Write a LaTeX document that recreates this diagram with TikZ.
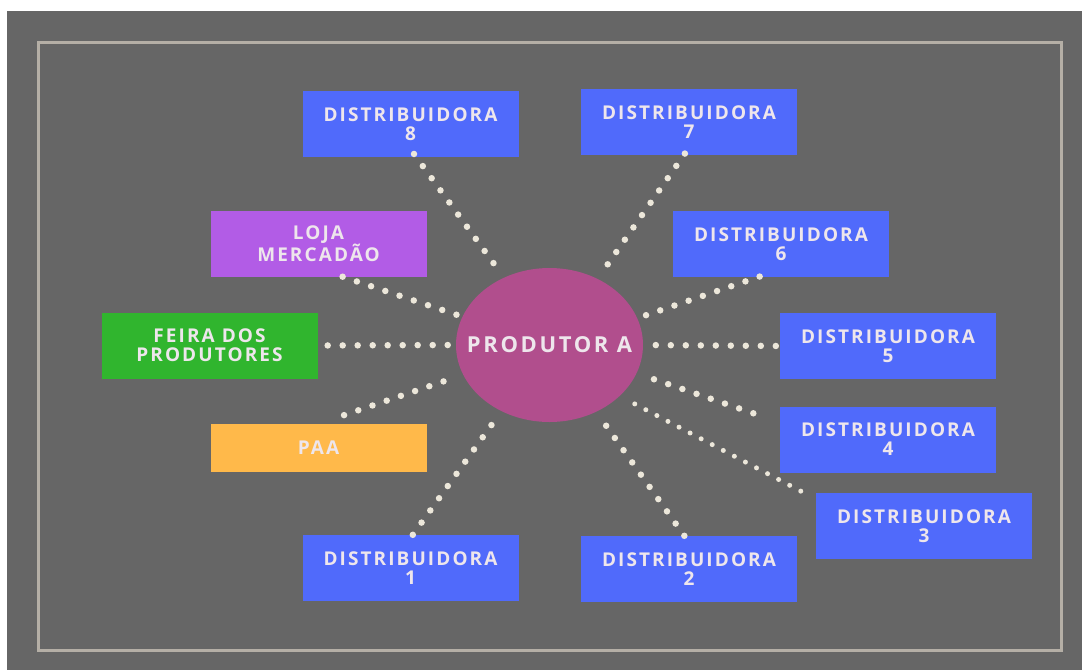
\documentclass[tikz,border=0pt]{standalone}
\usepackage{fontspec}
\usepackage{tikz}
\usetikzlibrary{shapes.geometric, positioning}
\newfontfamily\canalfont{Open Sans}[LetterSpace=11]
\newfontfamily\produtorfont{Open Sans}[LetterSpace=12]
\definecolor{boardgray}{HTML}{666666}
\definecolor{framegray}{HTML}{B5AFA6}
\definecolor{distblue}{HTML}{506AFB}
\definecolor{lojapurple}{HTML}{B25CE6}
\definecolor{feiragreen}{HTML}{30B52E}
\definecolor{paaorange}{HTML}{FFB94A}
\definecolor{produtorpink}{HTML}{B14E8D}
\definecolor{labelcream}{HTML}{EEE6EC}
\definecolor{dotcream}{HTML}{ECE7DA}

\tikzset{
  canal/.style={minimum width=216pt, minimum height=66pt, inner sep=0pt, text=labelcream, align=center,
    font=\canalfont\bfseries\fontsize{19}{19}\selectfont},
  pontos/.style={dotcream, line width=6.5pt, line cap=round, dash pattern=on 0pt off 15pt},
  pontinhos/.style={dotcream, line width=5pt, line cap=round, dash pattern=on 0pt off 12.5pt},
}

\begin{document}
\begin{tikzpicture}[x=1pt, y=-1pt]
  % Page and board
  \fill[white] (0,0) rectangle (1082,670);
  \fill[boardgray] (7,11) rectangle (1082,670);
  \draw[framegray, line width=3pt] (38.5,42) rectangle (1061,650);

  % Producer in the middle
  \node[ellipse, fill=produtorpink, minimum width=187pt, minimum height=154pt, inner sep=0pt, text=labelcream,
    font=\produtorfont\bfseries\fontsize{22}{24}\selectfont] (prod) at (549.5,345) {\makebox[0pt][c]{PRODUTOR A}};

  % Distributors
  \foreach \n/\x/\y in {1/410.5/568, 2/689/569, 3/924/526, 4/888/439.5, 5/888/346, 6/781/244, 7/689/122, 8/410.5/124} {
    \node[canal, fill=distblue] (d\n) at (\x,\y) {DISTRIBUIDORA\\\n};
  }

  % Other channels
  \node[canal, fill=lojapurple] (loja) at (318.5,243.5) {LOJA\\MERCADÃO};
  \node[canal, fill=feiragreen] (feira) at (209.5,345.5) {FEIRA DOS\\PRODUTORES};
  \node[canal, fill=paaorange, minimum height=48pt] (paa) at (318.5,448) {PAA};

  % Dotted links, drawn from the channel towards the producer
  \foreach \a/\b/\s in {124/d8.-80/-4, 54/d7.261/-2, 162/loja.-54/0, 180/feira.east/10, 199/paa.north/27,
                        234/d1.86/0, 305/d2.98/0, -18.6/d4.171/28, 0/d5.west/4, 17.5/d6.235/-2} {
    \draw[pontos, shorten >=6pt, shorten <=\s pt] (\b) -- (prod.\a);
  }
  \draw[pontinhos, shorten >=6pt, shorten <=17pt] (d3.166) -- (prod.324);
\end{tikzpicture}
\end{document}
